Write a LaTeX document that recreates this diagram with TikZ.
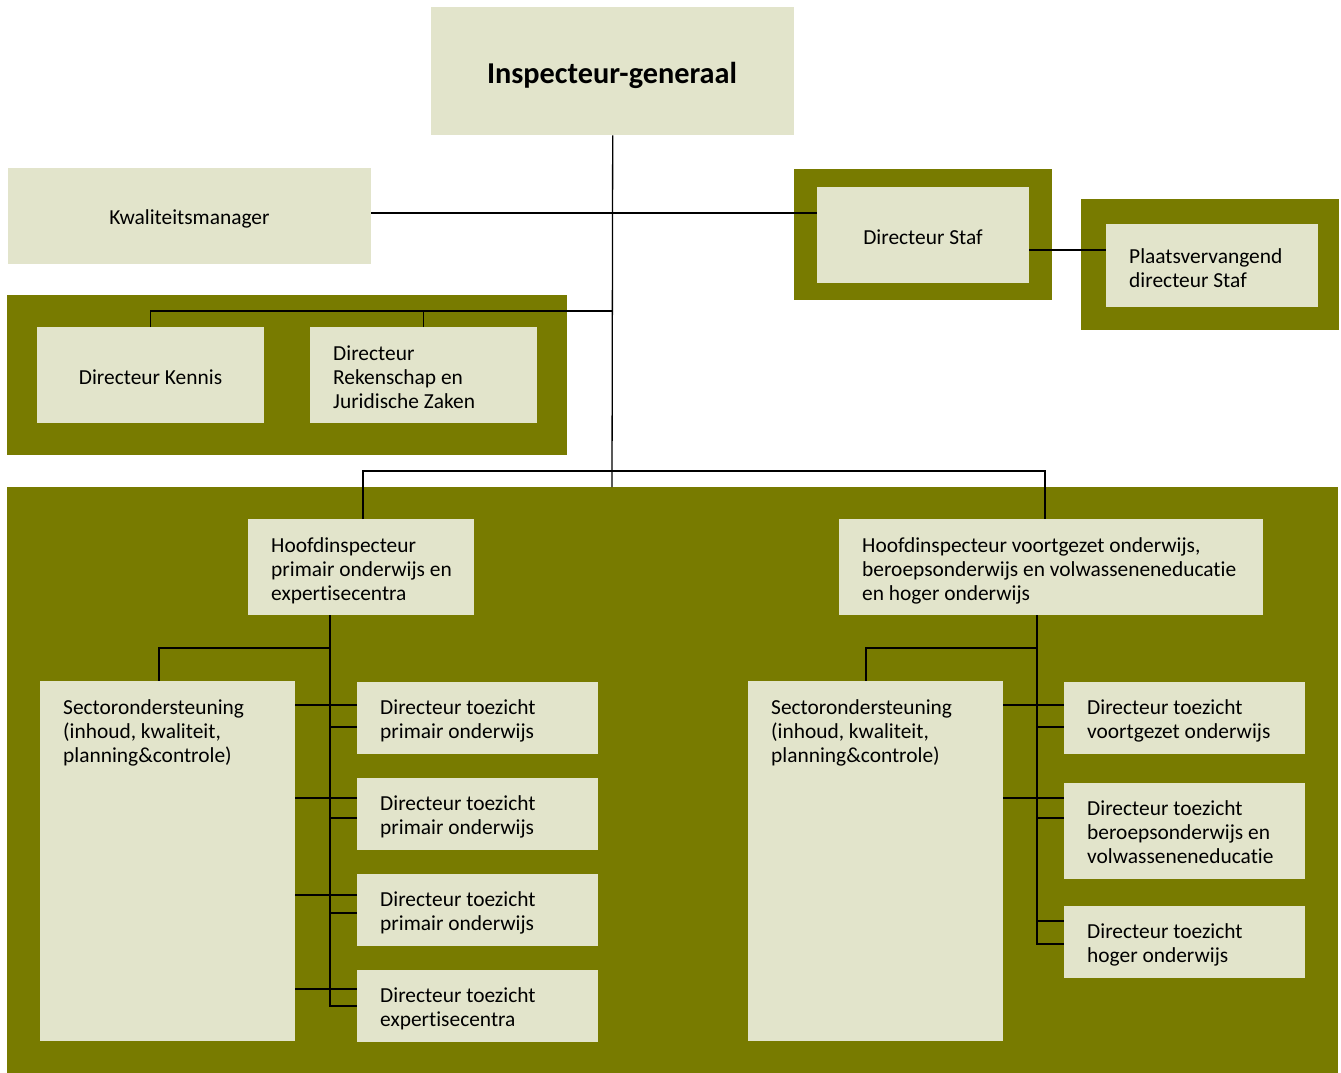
\documentclass[tikz,border=0pt]{standalone}
\usepackage{fontspec}
\setmainfont{Carlito}[Ligatures=NoCommon]
\definecolor{grn}{HTML}{787B00}
\definecolor{beige}{HTML}{E2E4CB}
\newcommand\nfont{\fontsize{21.4}{24}\selectfont}
\newcommand\igfont{\fontsize{30.3}{34}\selectfont\bfseries}
\begin{document}
\begin{tikzpicture}[x=1pt,y=-1pt,
  grnframe/.style={fill=grn, draw=none, inner sep=0pt, anchor=north west},
  pbox/.style={fill=beige, draw=none, inner sep=0pt, anchor=north west},
  ltxt/.style={anchor=north west, inner sep=0pt, align=left, font=\nfont},
  ctxt/.style={anchor=base, inner sep=0pt, font=\nfont},
  conn/.style={draw=black, line width=1.3pt},
]
\useasboundingbox (0,0) rectangle (1341,1073);
% green frames
\node[grnframe, minimum width=258pt, minimum height=131pt] (fStaf) at (794,169) {};
\node[grnframe, minimum width=258pt, minimum height=131pt] (fPV) at (1081,199) {};
\node[grnframe, minimum width=560pt, minimum height=160pt] (fKen) at (7,295) {};
\node[grnframe, minimum width=1331pt, minimum height=586pt] (fBig) at (7,487) {};
% boxes
\node[pbox, minimum width=363pt, minimum height=128pt] (IG) at (431,7) {};
\node[pbox, minimum width=363pt, minimum height=96pt] (KM) at (8,168) {};
\node[pbox, minimum width=212pt, minimum height=96pt] (Staf) at (817,187) {};
\node[pbox, minimum width=212pt, minimum height=83pt] (PV) at (1106,224) {};
\node[pbox, minimum width=227pt, minimum height=96pt] (Ken) at (37,327) {};
\node[pbox, minimum width=227pt, minimum height=96pt] (Rek) at (310,327) {};
\node[pbox, minimum width=226pt, minimum height=96pt] (HPO) at (248,519) {};
\node[pbox, minimum width=424pt, minimum height=96pt] (HVO) at (839,519) {};
\node[pbox, minimum width=255pt, minimum height=360pt] (SecL) at (40,681) {};
\node[pbox, minimum width=241pt, minimum height=72pt] (D1) at (357,682) {};
\node[pbox, minimum width=241pt, minimum height=72pt] (D2) at (357,778) {};
\node[pbox, minimum width=241pt, minimum height=72pt] (D3) at (357,874) {};
\node[pbox, minimum width=241pt, minimum height=72pt] (D4) at (357,970) {};
\node[pbox, minimum width=255pt, minimum height=360pt] (SecR) at (748,681) {};
\node[pbox, minimum width=241pt, minimum height=72pt] (R1) at (1064,682) {};
\node[pbox, minimum width=241pt, minimum height=96pt] (R2) at (1064,783) {};
\node[pbox, minimum width=241pt, minimum height=72pt] (R3) at (1064,906) {};
% connectors, top part
\coordinate (jStaf) at (612,213);
\coordinate (jPV) at (1060,250);
\coordinate (jKen) at (612,311);
\coordinate (jBig) at (612,487);
\coordinate (hPO) at (363,471);
\coordinate (hVO) at (1045,471);
\draw[conn] (IG.south) -- (jBig);
\draw[conn] (KM.east |- jStaf) -- (Staf.west |- jStaf);
\draw[conn] (Staf.east |- jPV) -- (PV.west |- jPV);
\draw[conn] (Ken.north) -- (Ken.north |- jKen) -- (jKen);
\draw[conn] (Rek.north) -- (Rek.north |- jKen);
\draw[conn] (HPO.north -| hPO) -- (hPO) -- (hVO) -- (HVO.north -| hVO);
% left subtree
\coordinate (spL) at (330,1006);
\coordinate (brL) at (330,648);
\coordinate (brSL) at (159,648);
\draw[conn] (HPO.south -| spL) -- (spL) -- (D4.west |- spL);
\draw[conn] (brL) -- (brSL) -- (SecL.north -| brSL);
\foreach \n/\a in {D1/705, D2/798, D3/895, D4/989}{
  \coordinate (t) at (0,\a);
  \draw[conn] (SecL.east |- t) -- (\n.west |- t);
}
\foreach \n/\b in {D1/727, D2/818, D3/913}{
  \coordinate (t) at (0,\b);
  \draw[conn] (spL |- t) -- (\n.west |- t);
}
% right subtree
\coordinate (spR) at (1037,944);
\coordinate (brR) at (1037,648);
\coordinate (brSR) at (866,648);
\draw[conn] (HVO.south -| spR) -- (spR) -- (R3.west |- spR);
\draw[conn] (brR) -- (brSR) -- (SecR.north -| brSR);
\foreach \n/\a in {R1/705, R2/798}{
  \coordinate (t) at (0,\a);
  \draw[conn] (SecR.east |- t) -- (\n.west |- t);
}
\foreach \n/\b in {R1/727, R2/818, R3/921}{
  \coordinate (t) at (0,\b);
  \draw[conn] (spR |- t) -- (\n.west |- t);
}
% texts
\node[anchor=base, inner sep=0pt, font=\igfont] (IGt) at (612,83) {Inspecteur-generaal};
\node[ctxt] (KMt) at (189.5,224) {Kwaliteitsmanager};
\node[ctxt] (Staft) at (923,244) {Directeur Staf};
\node[ctxt] (Kent) at (150.5,384) {Directeur Kennis};
\node[ltxt] (PVt) at (1129,246.2) {\strut Plaatsvervangend\\directeur Staf};
\node[ltxt] (Rekt) at (333,343.2) {\strut Directeur\\Rekenschap en\\Juridische Zaken};
\node[ltxt] (HPOt) at (271,535.2) {\strut Hoofdinspecteur\\primair onderwijs en\\expertisecentra};
\node[ltxt] (HVOt) at (862,535.2) {\strut Hoofdinspecteur voortgezet onderwijs,\\beroepsonderwijs en volwasseneneducatie\\en hoger onderwijs};
\node[ltxt] (SecLt) at (63,697.2) {\strut Sectorondersteuning\\(inhoud, kwaliteit,\\planning\&controle)};
\node[ltxt] (SecRt) at (771,697.2) {\strut Sectorondersteuning\\(inhoud, kwaliteit,\\planning\&controle)};
\node[ltxt] (D1t) at (380,697.2) {\strut Directeur toezicht\\primair onderwijs};
\node[ltxt] (D2t) at (380,793.2) {\strut Directeur toezicht\\primair onderwijs};
\node[ltxt] (D3t) at (380,889.2) {\strut Directeur toezicht\\primair onderwijs};
\node[ltxt] (D4t) at (380,985.2) {\strut Directeur toezicht\\expertisecentra};
\node[ltxt] (R1t) at (1087,697.2) {\strut Directeur toezicht\\voortgezet onderwijs};
\node[ltxt] (R2t) at (1087,798.2) {\strut Directeur toezicht\\beroepsonderwijs en\\volwasseneneducatie};
\node[ltxt] (R3t) at (1087,921.2) {\strut Directeur toezicht\\hoger onderwijs};
\end{tikzpicture}
\end{document}
